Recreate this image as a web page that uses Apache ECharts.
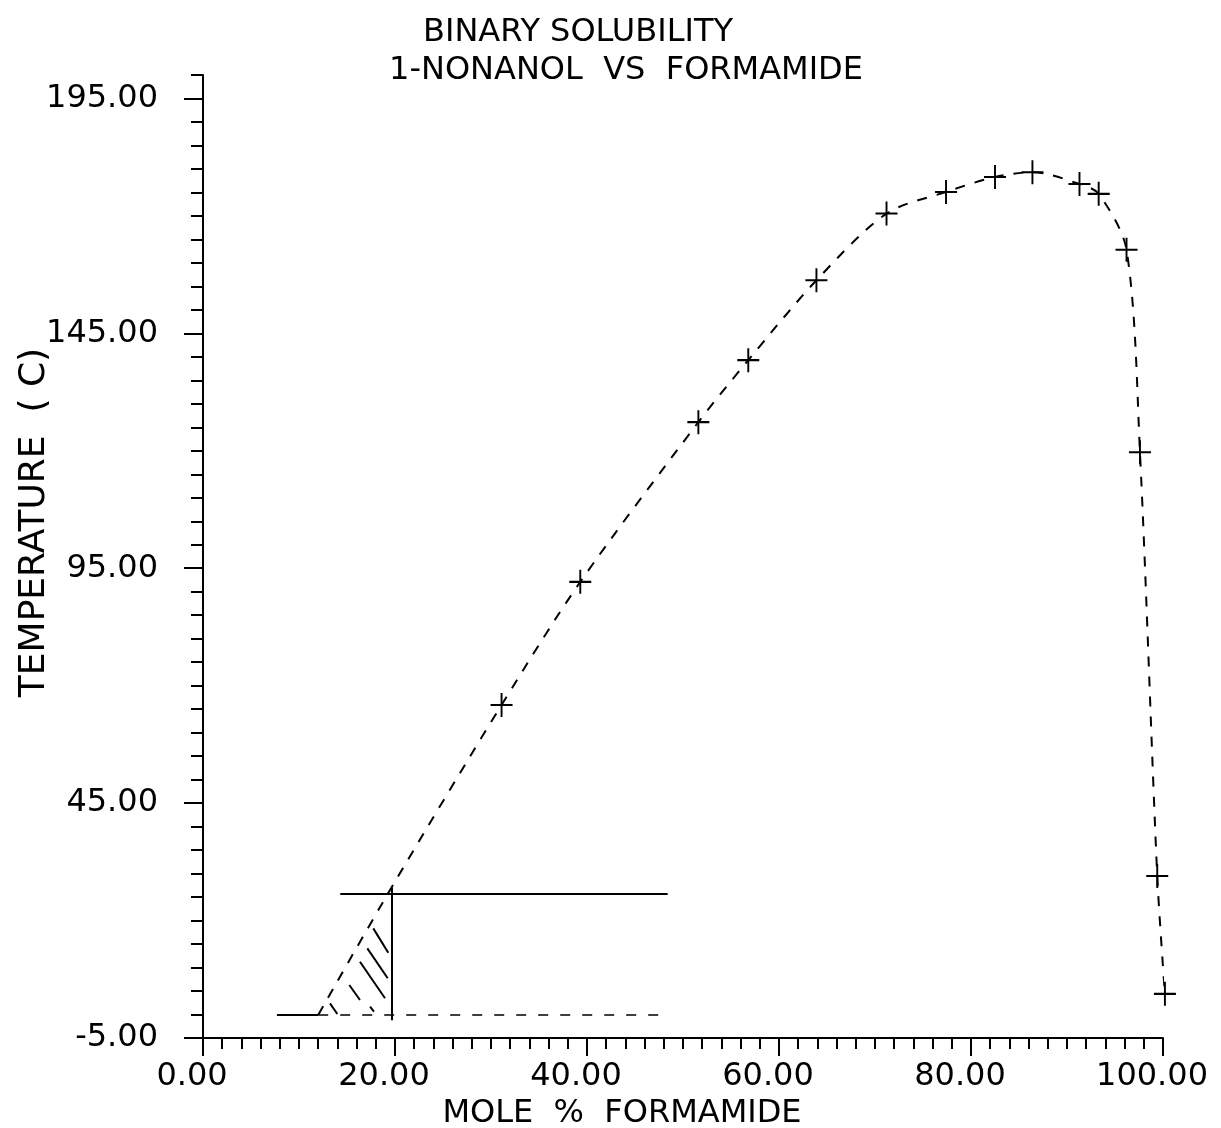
<!DOCTYPE html>
<html>
<head>
<meta charset="utf-8">
<script src="https://cdn.jsdelivr.net/npm/echarts@6/dist/echarts.min.js"></script>
<style>
html,body{margin:0;padding:0;background:#fff;}
#c{width:1221px;height:1128px;}
</style>
</head>
<body>
<div id="c"></div>
<script>
// ---- data ----
var titleLine1 = 'BINARY SOLUBILITY';
var titleLine2 = '1-NONANOL  VS  FORMAMIDE';
var xName = 'MOLE  %  FORMAMIDE';
var yName = 'TEMPERATURE  ( C)';

// measured points (+ markers): mole % formamide, temperature C
var pointsX = [31.1, 39.3, 51.6, 56.8, 63.9, 71.2, 77.4, 82.5, 86.4, 91.3, 93.3, 96.2, 97.6, 99.4, 100.2];
var pointsY = [65.9, 92.1, 126.1, 139.3, 156.3, 170.5, 175.1, 178.3, 179.3, 176.8, 174.7, 162.8, 119.7, 29.5, 4.4];

// dashed extrapolation of the curve toward the lower-left
var extX = [12.0, 19.8];
var extY = [-0.1, 27.6];

// construction lines near the lower-left (x1, y1, x2, y2)
var solidSegs = [
  [14.3, 25.8, 48.4, 25.8],
  [19.65, -1.2, 19.65, 27.1],
  [7.7, -0.1, 12.0, -0.1]
];
var dashedSegs = [
  [12.0, -0.1, 47.8, -0.1]
];
// hatch strokes inside the triangle (x1, y1, x2, y2)
var hatchSegs = [
  [17.74, 18.34, 19.30, 13.15],
  [17.12, 14.09, 19.24, 7.71],
  [16.35, 11.23, 18.96, 3.45],
  [15.24, 6.28, 16.35, 3.09],
  [13.23, 2.38, 13.99, 0.11],
  [17.40, 1.66, 17.81, 0.60]
];

var yMajor = [-5, 45, 95, 145, 195];

// ---- build ----
var curve = [];
for (var i = 0; i < extX.length; i++) curve.push([extX[i], extY[i]]);
for (var j = 0; j < pointsX.length; j++) curve.push([pointsX[j], pointsY[j]]);
var pts = pointsX.map(function (x, k) { return [x, pointsY[k]]; });

function segData(arr, style) {
  return arr.map(function (s) {
    return { coords: [[s[0], s[1]], [s[2], s[3]]], lineStyle: style };
  });
}

var FONT = 'DejaVu Sans';
var chart = echarts.init(document.getElementById('c'), null, { renderer: 'canvas' });
chart.setOption({
  backgroundColor: '#fff',
  animation: false,
  title: [
    { text: titleLine1, left: 573, top: 12, textAlign: 'center',
      textStyle: { fontFamily: FONT, fontSize: 32, fontWeight: 'normal', color: '#000' } },
    { text: titleLine2, left: 621, top: 50, textAlign: 'center',
      textStyle: { fontFamily: FONT, fontSize: 32, fontWeight: 'normal', color: '#000' } }
  ],
  grid: { left: 203, right: 58, top: 75, bottom: 90, containLabel: false, outerBoundsMode: 'none' },
  xAxis: {
    type: 'value', min: 0, max: 100, interval: 20,
    name: xName, nameLocation: 'middle', nameGap: 54,
    nameTextStyle: { fontFamily: FONT, fontSize: 32, color: '#000', padding: [0, 122, 0, 0] },
    axisLine: { show: true, onZero: false, lineStyle: { color: '#000', width: 2 } },
    axisTick: { show: true, inside: false, length: 18, lineStyle: { color: '#000', width: 2 } },
    minorTick: { show: true, splitNumber: 10, length: 11, lineStyle: { color: '#000', width: 2 } },
    splitLine: { show: false },
    axisLabel: { fontFamily: FONT, fontSize: 32, color: '#000', margin: 23,
      padding: [0, 22, 0, 0],
      formatter: function (v) { return v.toFixed(2); } }
  },
  yAxis: [
    {
      type: 'value', min: -5, max: 200, interval: 5,
      name: yName, nameLocation: 'middle', nameGap: 150, nameRotate: 90,
      nameTextStyle: { fontFamily: FONT, fontSize: 36, color: '#000', padding: [0, 0, 0, 68] },
      axisLine: { show: true, onZero: false, lineStyle: { color: '#000', width: 2 } },
      axisTick: { show: true, inside: false, length: 12, lineStyle: { color: '#000', width: 2 } },
      axisLabel: { show: false },
      splitLine: { show: false }
    },
    {
      type: 'value', min: -5, max: 200, interval: 5, position: 'left',
      axisLine: { show: false, onZero: false },
      axisTick: { show: true, inside: false, length: 19, customValues: yMajor,
        lineStyle: { color: '#000', width: 2 } },
      axisLabel: { show: true, customValues: yMajor, fontFamily: FONT, fontSize: 32,
        color: '#000', margin: 45,
        formatter: function (v) { return Number(v).toFixed(2); } },
      splitLine: { show: false }
    }
  ],
  series: [
    {
      type: 'line', name: 'curve', data: curve, yAxisIndex: 0,
      smooth: 0.3, showSymbol: false, symbol: 'none', clip: false,
      lineStyle: { color: '#000', width: 2, type: [10, 10] },
      z: 3
    },
    {
      type: 'scatter', name: 'points', data: pts, yAxisIndex: 0, clip: false,
      symbol: 'path://M10,0 L10,24 M0,12 L20,12', symbolSize: [22, 24],
      itemStyle: { color: '#000', borderColor: '#000', borderWidth: 2, opacity: 1 },
      z: 4
    },
    {
      type: 'lines', coordinateSystem: 'cartesian2d', yAxisIndex: 0, clip: false,
      data: segData(solidSegs, { color: '#000', width: 2, type: 'solid', opacity: 1 })
        .concat(segData(dashedSegs, { color: '#000', width: 1.5, type: [10, 12], opacity: 1 }))
        .concat(segData(hatchSegs, { color: '#000', width: 2, type: 'solid', opacity: 1 })),
      lineStyle: { opacity: 1, curveness: 0 },
      symbol: 'none',
      z: 3
    }
  ]
});
</script>
</body>
</html>
